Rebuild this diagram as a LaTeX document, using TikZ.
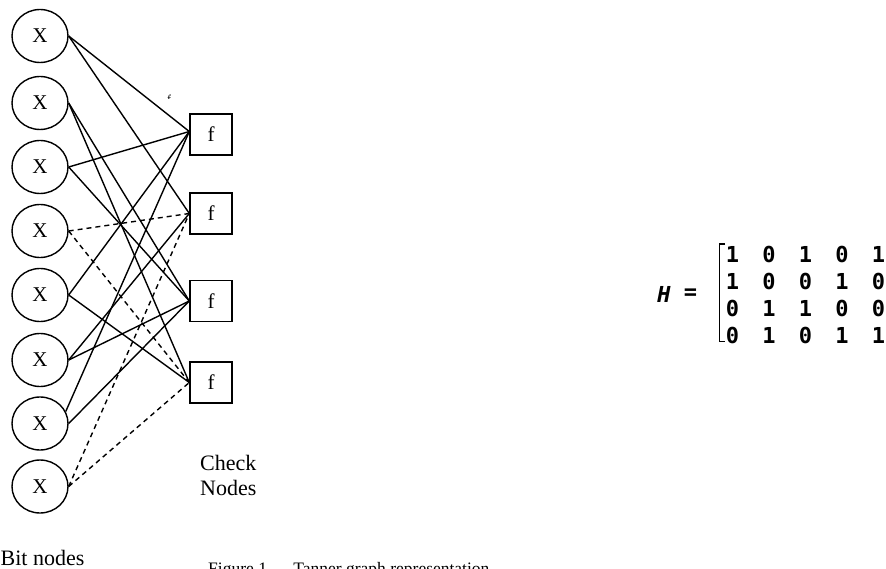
\documentclass[tikz,border=0pt]{standalone}
\usepackage{fontspec}
\setmainfont{Liberation Serif}
\newfontfamily\monofnt{DejaVu Sans Mono}
\usetikzlibrary{shapes.geometric}
\begin{document}
\begin{tikzpicture}[x=1pt,y=-1pt,
 bit/.style={draw, ellipse, line width=1.4pt, minimum width=56pt, minimum height=53pt, inner sep=0pt, font=\fontsize{21}{24}\selectfont},
 chk/.style={draw, rectangle, line width=1.4pt, minimum width=42pt, minimum height=41pt, inner sep=0pt, font=\fontsize{21}{24}\selectfont},
 edge/.style={line width=1.4pt},
 cyc/.style={line width=1.4pt, dash pattern=on 5pt off 4pt},
 lbl/.style={font=\fontsize{22}{25}\selectfont, inner sep=0pt, anchor=base west},
 dig/.style={font=\monofnt\bfseries\fontsize{22}{24}\selectfont, inner sep=0pt}
]
\useasboundingbox[fill=white] (0,0) rectangle (886,569);

\foreach [count=\i] \y in {36,103,167,231,295,360,423.5,486.5}
  \node[bit] (X\i) at (40,\y) {X};
\foreach [count=\i] \y in {134.5,213.5,301,382.5}
  \node[chk] (f\i) at (211,\y) {f};

\coordinate (f1in) at ([yshift=3pt]f1.west);

% check node 1
\draw[edge] (X1.east) -- (f1in);
\draw[edge] (X3.east) -- (f1in);
\draw[edge] (X5.east) -- (f1in);
\draw[edge] (X7.25) -- (f1in);
% check node 2
\draw[edge] (X1.east) -- (f2.west);
\draw[edge] (X6.east) -- (f2.west);
\draw[cyc] (X4.east) -- (f2.west);
\draw[cyc] (X8.east) -- (f2.west);
% check node 3
\draw[edge] (X2.east) -- (f3.west);
\draw[edge] (X3.east) -- (f3.west);
\draw[edge] (X6.east) -- (f3.west);
\draw[edge] (X7.east) -- (f3.west);
% check node 4
\draw[edge] (X2.east) -- (f4.west);
\draw[edge] (X5.east) -- (f4.west);
\draw[cyc] (X4.east) -- (f4.west);
\draw[cyc] (X8.east) -- (f4.west);

% stray glyph fragment
\begin{scope}
  \clip (160,90) rectangle (180,98.5);
  \node[font=\fontsize{12}{14}\selectfont, inner sep=0pt, anchor=base west] (fstray) at (167,103.5) {f};
\end{scope}

\node[lbl] (chk1) at (200,470) {Check};
\node[lbl] (chk2) at (200,495) {Nodes};
\node[lbl] (bitlbl) at (0.5,565) {Bit nodes};
\node[font=\fontsize{17.5}{20}\selectfont, inner sep=0pt, anchor=base west] (caption) at (208,574) {Figure 1.\hspace{22pt}Tanner graph representation};

% parity-check matrix
\node[dig] (Hlbl) at (664,294) {\itshape H};
\node[dig] (eq) at (690.5,294) {=};
\draw[line width=1.8pt] (725,244) -- (719.5,244) -- (719.5,341.5) -- (725,341.5);
\foreach [count=\r] \row in {{1,0,1,0,1},{1,0,0,1,0},{0,1,1,0,0},{0,1,0,1,1}} {
  \foreach [count=\c] \d in \row {
    \node[dig] (m\r\c) at ({732.5+36.5*(\c-1)}, {254+27*(\r-1)}) {\d};
  }
}
\end{tikzpicture}
\end{document}
